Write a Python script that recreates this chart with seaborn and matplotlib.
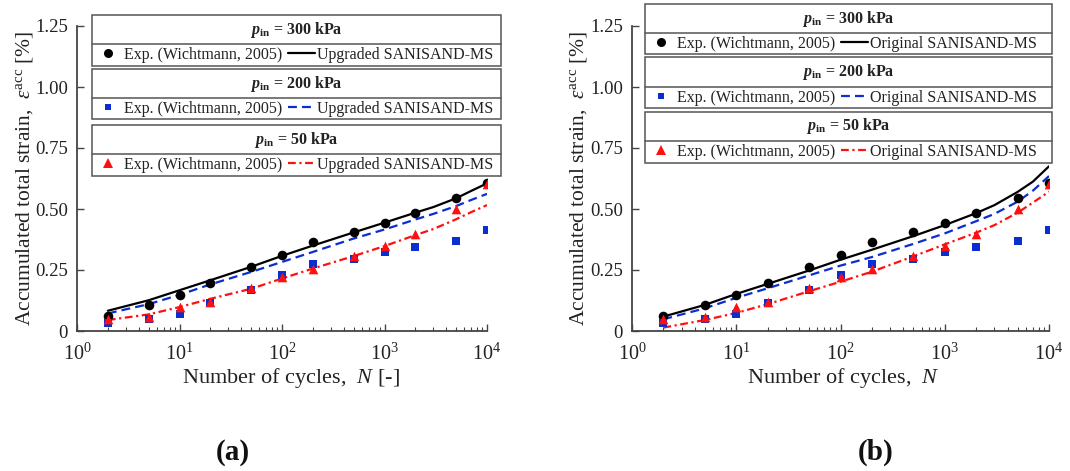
import numpy as np
import pandas as pd
import matplotlib
matplotlib.use("Agg")
import matplotlib.pyplot as plt
import seaborn as sns
from matplotlib.lines import Line2D
from matplotlib.patches import Rectangle
from matplotlib.ticker import FixedLocator, FixedFormatter, LogLocator, NullFormatter

# ---------------- data ----------------
n_exp = [2, 5, 10, 20, 50, 100, 200, 500, 1000, 2000, 5000, 10000]
exp_300 = [0.061, 0.105, 0.146, 0.195, 0.261, 0.310, 0.366, 0.407, 0.441, 0.482, 0.544, 0.608]
exp_200 = [0.034, 0.048, 0.070, 0.113, 0.170, 0.230, 0.275, 0.294, 0.324, 0.343, 0.368, 0.413]
exp_50 = [0.048, 0.059, 0.100, 0.120, 0.175, 0.220, 0.253, 0.307, 0.350, 0.398, 0.499, 0.602]

n_model = [2, 5, 10, 20, 50, 100, 200, 500, 1000, 2000, 3000, 5000, 7000, 10000]
upg_300 = [0.083, 0.126, 0.167, 0.208, 0.263, 0.308, 0.350, 0.404, 0.444, 0.485, 0.508, 0.544, 0.574, 0.605]
upg_200 = [0.072, 0.110, 0.148, 0.191, 0.242, 0.283, 0.324, 0.379, 0.416, 0.457, 0.480, 0.512, 0.537, 0.562]
upg_50 = [0.045, 0.068, 0.098, 0.132, 0.173, 0.215, 0.256, 0.307, 0.348, 0.393, 0.418, 0.458, 0.487, 0.516]

ori_300 = [0.059, 0.107, 0.152, 0.193, 0.248, 0.292, 0.333, 0.389, 0.434, 0.483, 0.516, 0.570, 0.612, 0.675]
ori_200 = [0.048, 0.093, 0.136, 0.175, 0.228, 0.268, 0.303, 0.357, 0.400, 0.450, 0.480, 0.530, 0.575, 0.635]
ori_50 = [0.014, 0.045, 0.074, 0.110, 0.163, 0.202, 0.243, 0.306, 0.355, 0.403, 0.434, 0.485, 0.526, 0.571]

pressures = ["300", "200", "50"]
exp_label = "Exp. (Wichtmann, 2005)"
model_labels = ["Upgraded SANISAND-MS", "Original SANISAND-MS"]
panel_labels = ["(a)", "(b)"]
yticks = [0, 0.25, 0.50, 0.75, 1.00, 1.25]
ytick_labels = ["0", "0.25", "0.50", "0.75", "1.00", "1.25"]
xticks = [1, 10, 100, 1000, 10000]
xtick_labels = [r"$10^0$", r"$10^1$", r"$10^2$", r"$10^3$", r"$10^4$"]
xlabels = [r"Number of cycles,  $N$ [-]", r"Number of cycles,  $N$"]
ylabel = r"Accumulated total strain,  $\varepsilon^{\mathrm{acc}}$ [%]"

# ---------------- style ----------------
sns.set_theme(style="ticks")
plt.rcParams["font.family"] = ["Liberation Serif", "DejaVu Serif"]
plt.rcParams["mathtext.fontset"] = "custom"
plt.rcParams["mathtext.rm"] = "Liberation Serif"
plt.rcParams["mathtext.it"] = "Liberation Serif:italic"
plt.rcParams["mathtext.bf"] = "Liberation Serif:bold"
plt.rcParams["mathtext.bfit"] = "Liberation Serif:italic:bold"

TXT = "#222222"
AX = "#444444"
BLK = "#000000"
BLU = "#0a2ecf"
RED = "#ff1010"
colors = [BLK, BLU, RED]
markers = ["o", "s", "^"]
msizes = [48, 26, 48]
lstyles = ["-", (0, (4, 2.3)), (0, (3.5, 1.6, 1.0, 1.6))]

W, H = 1070, 471
fig = plt.figure(figsize=(W / 100, H / 100), dpi=100)

def fx(px):
    return px / W

def fy(py):
    return 1 - py / H

axes_px = [(77, 487), (632, 1049)]
top_px, bot_px = 26, 331
ylab_x = [35, 589]
xlab_cx = [291, 843]
box_x = [(92, 501), (645, 1052)]
box_y = [
    [(15, 44.3, 65.7), (69, 98.3, 119.3), (125, 154.3, 175.7)],
    [(4, 33.3, 54), (57.3, 87.3, 108), (111.7, 141, 162.7)],
]
panel_xy = [(233, 452), (876, 452)]

exps = [exp_300, exp_200, exp_50]
models = [[upg_300, upg_200, upg_50], [ori_300, ori_200, ori_50]]

for p in range(2):
    x0, x1 = axes_px[p]
    ax = fig.add_axes([fx(x0), fy(bot_px), (x1 - x0) / W, (bot_px - top_px) / H])
    for i in range(3):
        sns.lineplot(x=n_model, y=models[p][i], ax=ax, color=colors[i], linewidth=1.6,
                     linestyle=lstyles[i], estimator=None, sort=False, legend=False, zorder=2)
        sns.scatterplot(x=n_exp, y=exps[i], ax=ax, color=colors[i], marker=markers[i],
                        s=msizes[i], linewidth=0, legend=False, zorder=3 + (i == 2))
    ax.set_xscale("log")
    ax.set_xlim(1, 1e4)
    ax.set_ylim(0, 1.25)
    ax.xaxis.set_major_locator(FixedLocator(xticks))
    ax.xaxis.set_major_formatter(FixedFormatter(xtick_labels))
    ax.xaxis.set_minor_locator(LogLocator(base=10, subs=np.arange(2, 10)))
    ax.xaxis.set_minor_formatter(NullFormatter())
    ax.yaxis.set_major_locator(FixedLocator(yticks))
    ax.yaxis.set_major_formatter(FixedFormatter(ytick_labels))
    for s in ["top", "right"]:
        ax.spines[s].set_visible(False)
    for s in ["left", "bottom"]:
        ax.spines[s].set_color(AX)
        ax.spines[s].set_linewidth(1.3)
    ax.tick_params(axis="both", which="both", direction="in", color=AX, labelcolor=TXT,
                   labelsize=13.5)
    ax.tick_params(axis="x", which="major", length=5, width=1.0, pad=9, labelsize=14.5)
    ax.tick_params(axis="x", which="minor", length=3, width=0.8)
    ax.tick_params(axis="y", which="major", length=5, width=1.0, pad=6.5)
    ax.set_xlabel(xlabels[p], fontsize=16, color=TXT)
    ax.set_ylabel(ylabel, fontsize=15.5, color=TXT)
    ax.xaxis.set_label_coords((xlab_cx[p] - x0) / (x1 - x0), (bot_px - 366) / (bot_px - top_px))
    ax.yaxis.set_label_coords((ylab_x[p] - x0) / (x1 - x0), 0.5)

    # legend boxes
    bx0, bx1 = box_x[p]
    for i in range(3):
        t, sep, b = box_y[p][i]
        fig.add_artist(Rectangle((fx(bx0), fy(b)), (bx1 - bx0) / W, (b - t) / H,
                                 transform=fig.transFigure, facecolor="white",
                                 edgecolor="#555555", linewidth=1.1, zorder=5))
        fig.add_artist(Line2D([fx(bx0), fx(bx1)], [fy(sep), fy(sep)],
                              transform=fig.transFigure, color="#555555", linewidth=1.1, zorder=6))
        fig.text(fx((bx0 + bx1) / 2), fy((t + sep) / 2),
                 r"$\mathbfit{p}_{\mathbf{in}}$" + f" = {pressures[i]} kPa",
                 ha="center", va="center", fontsize=11.5, fontweight="bold", color=TXT, zorder=7)
        h_exp = Line2D([], [], color=colors[i], marker=markers[i], linestyle="none",
                       markersize=[6.5, 5, 7][i], markeredgewidth=0)
        h_mod = Line2D([], [], color=colors[i], linestyle=lstyles[i], linewidth=1.6)
        leg = fig.legend(handles=[h_exp, h_mod], labels=[exp_label, model_labels[p]],
                         ncol=2, frameon=False, loc="center left",
                         bbox_to_anchor=(fx(bx0 + 2.5), fy((sep + b) / 2)),
                         bbox_transform=fig.transFigure, fontsize=11.5,
                         handlelength=1.7, handletextpad=0.15, columnspacing=0.35,
                         borderpad=0, borderaxespad=0, labelcolor=TXT)
        leg.set_zorder(8)

    fig.text(fx(panel_xy[p][0]), fy(panel_xy[p][1]), panel_labels[p], ha="center", va="center",
             fontsize=21, fontweight="bold", color="#111111")

fig.savefig("out.png", dpi=100, facecolor="white")
